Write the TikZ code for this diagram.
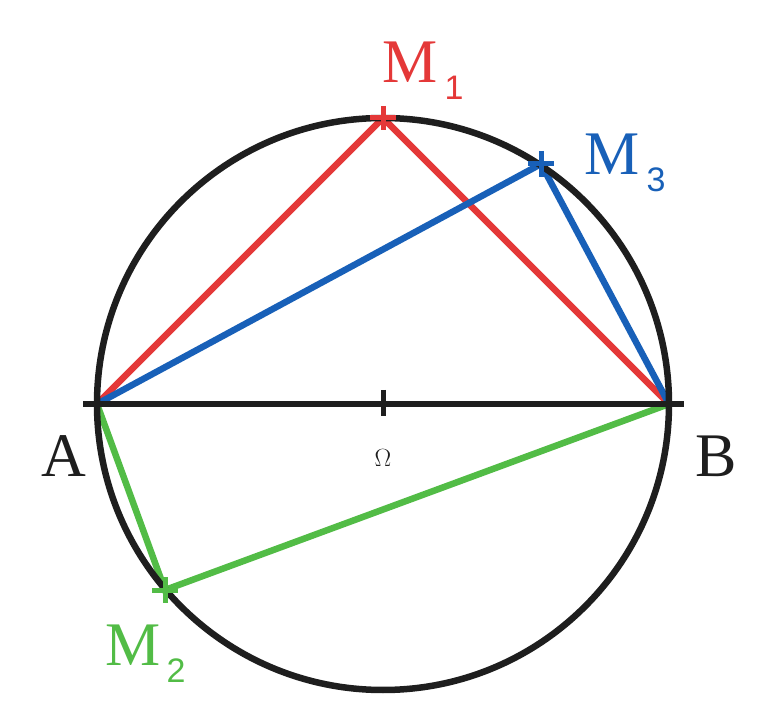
\documentclass[tikz,border=0pt]{standalone}
\usepackage{fontspec}
\setmainfont{Liberation Serif}
\newfontfamily\subf{Liberation Sans}
\definecolor{cred}{RGB}{228,56,56}
\definecolor{cblue}{RGB}{24,96,184}
\definecolor{cgreen}{RGB}{82,188,70}
\definecolor{cblack}{RGB}{30,30,30}
\begin{document}
\begin{tikzpicture}[x=1pt,y=-1pt,line width=6.5pt,
  lbl/.style={font=\fontsize{62}{62}\selectfont,inner sep=0pt},
  sb/.style={font=\subf\fontsize{34}{34}\selectfont,inner sep=0pt}]
\useasboundingbox (0,0) rectangle (764,719);
\coordinate (O) at (383,404);
\coordinate (A) at (97,404);
\coordinate (B) at (669,404);
\coordinate (M1) at (383,118);
\coordinate (M3) at (541,164);
\coordinate (M2) at (165,590);
\draw[cred] (A) -- (M1) -- (B);
\draw[cblue] (A) -- (M3) -- (B);
\draw[cgreen] (A) -- (M2) -- (B);
\draw[cblack] (O) circle (286);
\draw[cblack] (83,404) -- (684,404);
\draw[cblack,line width=5pt] (383,390) -- (383,416);
\draw[cred,line width=5pt] (370,118) -- (396,118) (383,106) -- (383,130);
\draw[cblue,line width=5pt] (528,164) -- (554,164) (541,151) -- (541,177);
\draw[cgreen,line width=5pt] (152,590) -- (178,590) (165,577) -- (165,603);
\node[lbl,text=cblack] (la) at (64,456) {A};
\node[lbl,text=cblack] (lo) at (383,458) {$\Omega$};
\node[lbl,text=cblack] (lb) at (716,456) {B};
\node[lbl,text=cred] (l1) at (410,62) {M};
\node[sb,text=cred] (s1) at (454,88) {1};
\node[lbl,text=cblue] (l3) at (612,154) {M};
\node[sb,text=cblue] (s3) at (656,180) {3};
\node[lbl,text=cgreen] (l2) at (133,645) {M};
\node[sb,text=cgreen] (s2) at (176,671) {2};
\end{tikzpicture}
\end{document}
